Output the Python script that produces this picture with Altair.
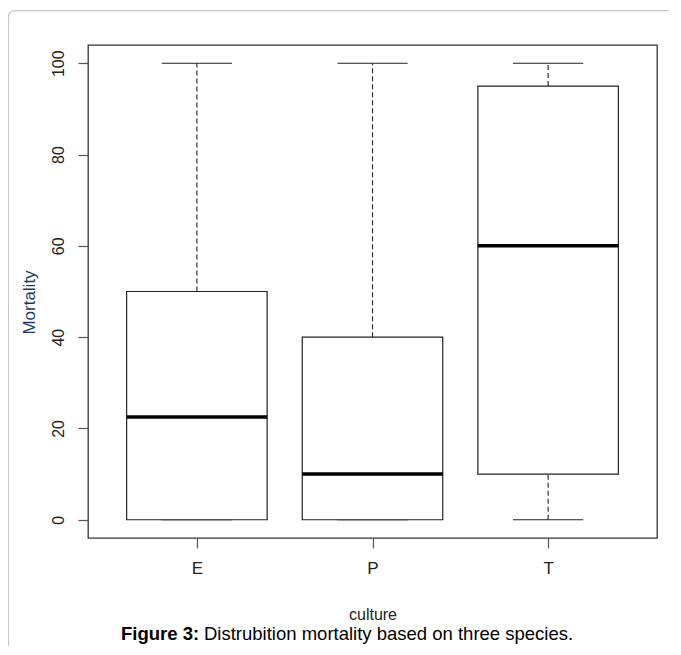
import json
import altair as alt
import pandas as pd

# ---- data ----
cats = ["E", "P", "T"]
lower = [0, 0, 0]          # lower whisker end
q1 = [0, 0, 10]            # box bottom
median = [22.5, 10, 60]    # median line
q3 = [50, 40, 95]          # box top
upper = [100, 100, 100]    # upper whisker end
y_ticks = [0, 20, 40, 60, 80, 100]

caption_bold = "Figure 3:"
caption_rest = "Distrubition mortality based on three species."

df = pd.DataFrame({
    "cat": cats,
    "idx": list(range(1, len(cats) + 1)),
    "lower": lower, "q1": q1, "median": median, "q3": q3, "upper": upper,
})

W, H = 569, 493
FONT = "Liberation Sans, Arial, sans-serif"

xscale = alt.Scale(domain=[0.38, len(cats) + 0.62], nice=False, zero=False)
yscale = alt.Scale(domain=[-4, 104], nice=False, zero=False)

xaxis = alt.Axis(
    values=list(range(1, len(cats) + 1)),
    labelExpr=f"{json.dumps(cats)}[datum.value - 1]",
    grid=False, domain=False, tickSize=10, tickColor="#555", tickWidth=1.2,
    labelFont=FONT, labelFontSize=17, labelColor="#222", labelPadding=12,
    title="culture", titleFont=FONT, titleFontSize=16, titleFontWeight="normal",
    titleColor="#222", titleX=W / 2, titleY=76, titleBaseline="middle",
    titleAlign="center",
)
yaxis = alt.Axis(
    values=y_ticks, grid=False, domain=False, tickSize=10, tickColor="#555",
    tickWidth=1.2, labelAngle=270, labelAlign="center", labelBaseline="middle",
    labelFont=FONT, labelFontSize=16, labelColor="#222", labelPadding=20,
    title="Mortality", titleFont=FONT, titleFontSize=17, titleFontWeight="normal",
    titleColor="#1f3864", titleAngle=270, titleX=-59, titleY=257,
    titleBaseline="middle", titleAlign="center",
)

base = alt.Chart(df).transform_calculate(
    bl="datum.idx - 0.4", br="datum.idx + 0.4",
    cl="datum.idx - 0.2", cr="datum.idx + 0.2",
)

whisk_hi = base.mark_rule(strokeDash=[5, 3], color="#222", strokeWidth=1.1).encode(
    x=alt.X("idx:Q", scale=xscale, axis=xaxis),
    y=alt.Y("q3:Q", scale=yscale, axis=yaxis), y2="upper:Q")
whisk_lo = base.mark_rule(strokeDash=[5, 3], color="#222", strokeWidth=1.1).encode(
    x=alt.X("idx:Q", scale=xscale, axis=xaxis),
    y=alt.Y("lower:Q", scale=yscale, axis=yaxis), y2="q1:Q")
cap_hi = base.mark_rule(color="#222", strokeWidth=1.2).encode(
    x=alt.X("cl:Q", scale=xscale, axis=xaxis), x2="cr:Q",
    y=alt.Y("upper:Q", scale=yscale, axis=yaxis))
cap_lo = base.mark_rule(color="#222", strokeWidth=1.2).encode(
    x=alt.X("cl:Q", scale=xscale, axis=xaxis), x2="cr:Q",
    y=alt.Y("lower:Q", scale=yscale, axis=yaxis))
box = base.mark_rect(fill="white", stroke="#222", strokeWidth=1.2).encode(
    x=alt.X("bl:Q", scale=xscale, axis=xaxis), x2="br:Q",
    y=alt.Y("q1:Q", scale=yscale, axis=yaxis), y2="q3:Q")
med = base.mark_rule(color="black", strokeWidth=3.5).encode(
    x=alt.X("bl:Q", scale=xscale, axis=xaxis), x2="br:Q",
    y=alt.Y("median:Q", scale=yscale, axis=yaxis))

one = pd.DataFrame({"a": [0]})
border = alt.Chart(one).mark_rect(
    fillOpacity=0, stroke="#c8c8c8", strokeWidth=1.2, cornerRadius=6
).encode(x=alt.value(-79.5), x2=alt.value(700), y=alt.value(-34.3), y2=alt.value(800))

cap1 = alt.Chart(pd.DataFrame({"t": [caption_bold]})).mark_text(
    font=FONT, fontSize=18.5, fontWeight="bold", align="left", baseline="alphabetic",
    color="black").encode(x=alt.value(33), y=alt.value(595), text="t:N")
cap2 = alt.Chart(pd.DataFrame({"t": [caption_rest]})).mark_text(
    font=FONT, fontSize=18.5, align="left", baseline="alphabetic",
    color="black").encode(x=alt.value(116), y=alt.value(595), text="t:N")

chart = alt.layer(border, whisk_hi, whisk_lo, cap_hi, cap_lo, box, med, cap1, cap2).properties(
    width=W, height=H,
    autosize=alt.AutoSizeParams(type="none"),
    padding={"left": 80, "top": 37, "right": 12, "bottom": 108},
).configure(
    background="white",
    view=alt.ViewConfig(stroke="#333", strokeWidth=1.3),
)

chart.save("out.html", embed_options={"renderer": "svg", "actions": False})
